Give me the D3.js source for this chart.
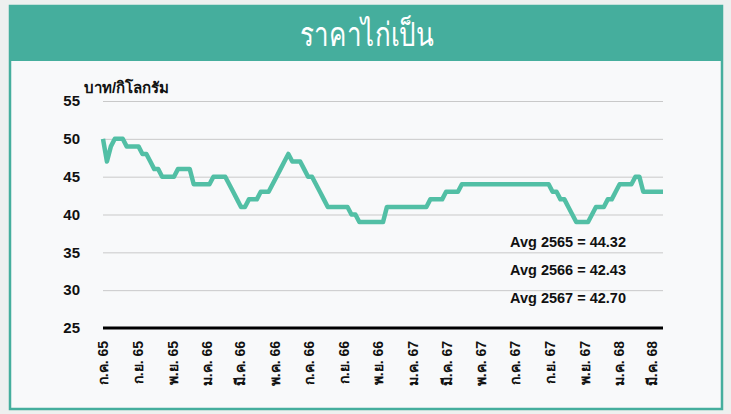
<!DOCTYPE html>
<html>
<head>
<meta charset="utf-8">
<script src="https://cdn.jsdelivr.net/npm/d3@7"></script>
<style>
  body { margin: 0; background: #eef0ef; }
  svg { display: block; font-family: 'Liberation Sans', Arial, 'Noto Sans', sans-serif; }
  .yLabel text, .unitLabel, .avgLabel { font-weight: bold; fill: #111; }
  .grid line { stroke: #c9c9c9; stroke-width: 1; }
  .bottomAxis text { font-weight: bold; fill: #111; }
</style>
</head>
<body>
<svg id="chart" width="731" height="414"></svg>
<script>
// weekly live-chicken price, first week starts 1 Jul 2022 (ก.ค. 65)
const startWeek = new Date(2022, 6, 1)
const prices = [
  50, 47, 49, 50, 50, 50, 49, 49, 49, 49, 48, 48, 47, 46, 46, 45, 45, 45, 45, 46,
  46, 46, 46, 44, 44, 44, 44, 44, 45, 45, 45, 45, 44, 43, 42, 41, 41, 42, 42, 42,
  43, 43, 43, 44, 45, 46, 47, 48, 47, 47, 47, 46, 45, 45, 44, 43, 42, 41, 41, 41,
  41, 41, 41, 40, 40, 39, 39, 39, 39, 39, 39, 39, 41, 41, 41, 41, 41, 41, 41, 41,
  41, 41, 41, 42, 42, 42, 42, 43, 43, 43, 43, 44, 44, 44, 44, 44, 44, 44, 44, 44,
  44, 44, 44, 44, 44, 44, 44, 44, 44, 44, 44, 44, 44, 44, 43, 43, 42, 42, 41, 40,
  39, 39, 39, 39, 40, 41, 41, 41, 42, 42, 43, 44, 44, 44, 44, 45, 45, 43, 43, 43,
  43, 43, 43
]
const yTicks = [25, 30, 35, 40, 45, 50, 55]
const xTickLabels = [
  'ก.ค. 65', 'ก.ย. 65', 'พ.ย. 65', 'ม.ค. 66', 'มี.ค. 66', 'พ.ค. 66', 'ก.ค. 66', 'ก.ย. 66', 'พ.ย. 66',
  'ม.ค. 67', 'มี.ค. 67', 'พ.ค. 67', 'ก.ค. 67', 'ก.ย. 67', 'พ.ย. 67', 'ม.ค. 68', 'มี.ค. 68'
]
const avgYears = ['2565', '2566', '2567']
const avgValues = [44.32, 42.43, 42.70]

const title = 'ราคาไก่เป็น'
const unit = 'บาท/กิโลกรัม'

drawChart()

function drawChart () {
  const dim = { left: 103, right: 663, top: 101, bottom: 328 }
  const data = prices.map((v, i) => ({ date: d3.timeDay.offset(startWeek, i * 7), value: v }))
  const svg = d3.select('#chart')
  drawFrame(svg)
  const scales = setScales(data, dim)
  drawGrid(svg, dim, scales)
  drawYAxis(svg, dim, scales)
  drawXAxis(svg, dim, scales)
  drawLine(svg, data, scales)
  drawAverages(svg)
}

function drawFrame (svg) {
  svg.append('rect') // inner panel
    .attr('x', 10).attr('y', 6)
    .attr('width', 712).attr('height', 403)
    .attr('fill', '#f8f9fa')
    .attr('stroke', '#45ae9d')
    .attr('stroke-width', 2.5)
  svg.append('rect') // title band
    .attr('x', 9).attr('y', 6)
    .attr('width', 714).attr('height', 55)
    .attr('fill', '#45ae9d')
  svg.append('text') // title font in the original is a narrow one, squeeze to its width
    .attr('x', 300).attr('y', 46)
    .attr('textLength', 134)
    .attr('lengthAdjust', 'spacingAndGlyphs')
    .attr('fill', '#fff')
    .style('font-size', '33px')
    .text(title)
  svg.append('text')
    .attr('class', 'unitLabel')
    .attr('x', 84).attr('y', 93)
    .style('font-size', '15px')
    .text(unit)
}

function setScales (data, dim) {
  return {
    xScale: d3.scaleTime()
      .domain(d3.extent(data, (d) => d.date))
      .range([dim.left, dim.right]),
    yScale: d3.scaleLinear()
      .domain([d3.min(yTicks), d3.max(yTicks)])
      .range([dim.bottom, dim.top])
  }
}

function drawGrid (svg, dim, { yScale }) {
  const g = svg.append('g')
    .attr('class', 'grid')
    .attr('transform', 'translate(' + dim.left + ',0)')
    .call(d3.axisLeft(yScale)
      .tickValues(yTicks.slice(1))
      .tickSize(-(dim.right - dim.left))
      .tickFormat(''))
  g.select('.domain').remove()

  svg.append('line') // base line at 25
    .attr('x1', dim.left).attr('x2', dim.right)
    .attr('y1', yScale(25)).attr('y2', yScale(25))
    .attr('stroke', '#000')
    .attr('stroke-width', 3)
}

function drawYAxis (svg, dim, { yScale }) {
  const g = svg.append('g')
    .attr('class', 'yLabel')
    .attr('transform', 'translate(80,0)')
    .call(d3.axisLeft(yScale)
      .tickValues(yTicks)
      .tickSize(0)
      .tickPadding(0))
  g.select('.domain').remove()
  g.selectAll('text').style('font-size', '15px')
}

function drawXAxis (svg, dim, { xScale }) {
  const tickDates = xTickLabels.map((l, i) => d3.timeMonth.offset(startWeek, i * 2))
  const g = svg.append('g')
    .attr('class', 'bottomAxis')
    .attr('transform', 'translate(0,' + dim.bottom + ')')
    .call(d3.axisBottom(xScale)
      .tickValues(tickDates)
      .tickSize(0)
      .tickFormat((d, i) => xTickLabels[i]))
  g.select('.domain').remove()
  g.selectAll('text')
    .style('font-size', '14px')
    .attr('text-anchor', 'end')
    .attr('transform', 'translate(0,13) rotate(-90)')
    .attr('x', 0).attr('y', 0)
    .attr('dy', '0.35em')
}

function drawLine (svg, data, { xScale, yScale }) {
  const line = d3.line()
    .x((d) => xScale(d.date))
    .y((d) => yScale(d.value))
  svg.append('path')
    .datum(data)
    .attr('d', line)
    .attr('fill', 'none')
    .attr('stroke', '#52bfa5')
    .attr('stroke-width', 4.5)
    .attr('stroke-linejoin', 'round')
}

function drawAverages (svg) {
  svg.selectAll('.avgLabel')
    .data(avgYears)
    .join('text')
    .attr('class', 'avgLabel')
    .attr('x', 510)
    .attr('y', (d, i) => 246.5 + i * 28.3)
    .style('font-size', '14.5px')
    .text((d, i) => `Avg ${d} = ${avgValues[i].toFixed(2)}`)
}
</script>
</body>
</html>
